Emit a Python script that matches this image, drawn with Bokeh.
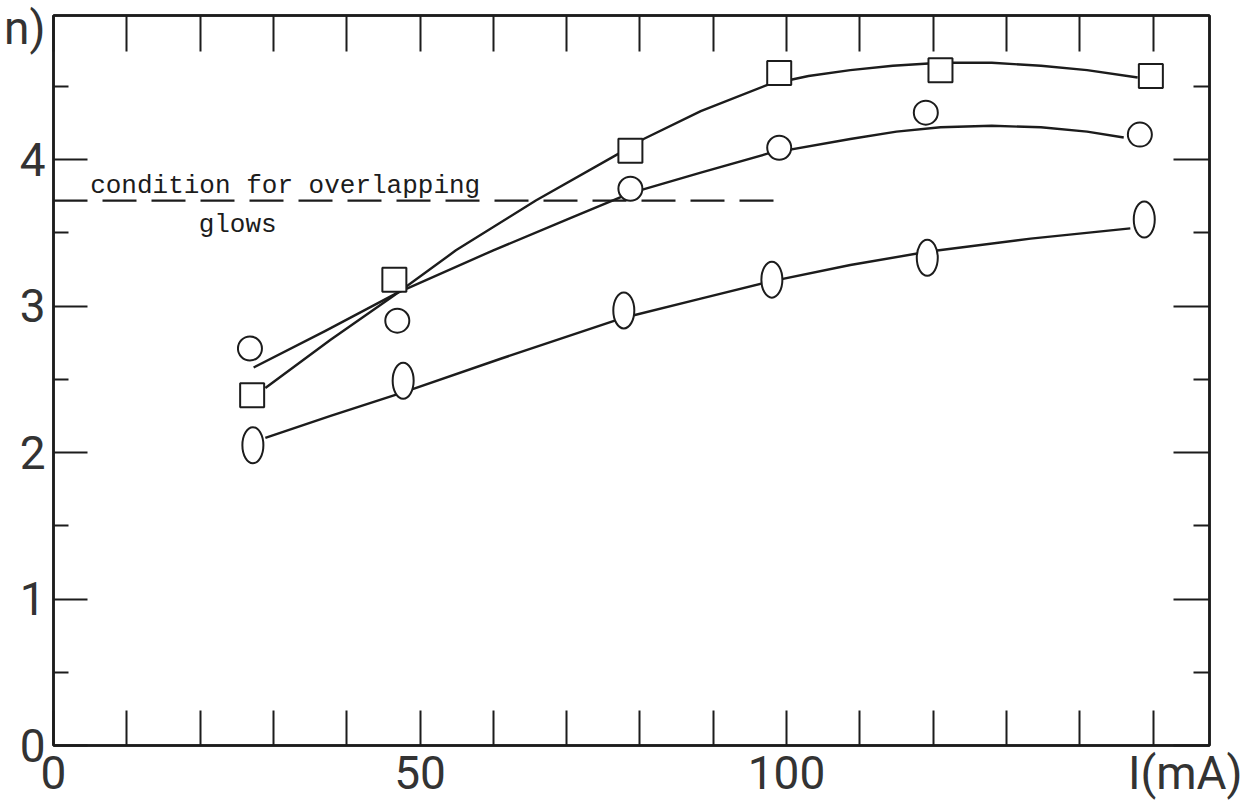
from bokeh.plotting import figure
from bokeh.models import Range1d, LinearAxis, FixedTicker, Label
from bokeh.embed import file_html
from bokeh.resources import INLINE

# ---- data (x: I in mA, y: value on the left scale) ----
sq_x = [27.1, 46.5, 78.7, 99.0, 121.0, 149.7]
sq_y = [2.39, 3.18, 4.06, 4.59, 4.61, 4.57]

ci_x = [26.8, 46.9, 78.7, 99.0, 119.0, 148.2]
ci_y = [2.71, 2.90, 3.80, 4.08, 4.32, 4.17]

ov_x = [27.2, 47.7, 77.8, 98.0, 119.2, 148.8]
ov_y = [2.05, 2.49, 2.97, 3.18, 3.33, 3.59]

# hand-drawn smooth curves
sq_curve_x = [28.9, 37.8, 46.4, 54.9, 65.8, 77.1, 80.5, 88.3, 97.4, 103.0, 108.7, 114.5, 121.0, 128.0, 134.7, 141.0, 147.9]
sq_curve_y = [2.44, 2.77, 3.07, 3.38, 3.72, 4.04, 4.14, 4.33, 4.51, 4.57, 4.61, 4.64, 4.66, 4.66, 4.64, 4.61, 4.56]

ci_curve_x = [27.3, 37.1, 46.9, 60.0, 70.5, 78.7, 88.3, 97.4, 108.7, 115.0, 121.0, 128.0, 134.7, 141.0, 146.0]
ci_curve_y = [2.58, 2.83, 3.09, 3.38, 3.60, 3.77, 3.91, 4.04, 4.14, 4.19, 4.22, 4.23, 4.22, 4.19, 4.15]

ov_curve_x = [28.9, 37.8, 47.7, 61.0, 77.8, 88.3, 98.0, 108.7, 119.2, 133.3, 146.9]
ov_curve_y = [2.10, 2.25, 2.41, 2.64, 2.92, 3.05, 3.17, 3.28, 3.37, 3.46, 3.53]

# condition for overlapping glows (dashed level)
dash_x = [0.0, 99.7]
dash_y = [3.72, 3.72]

x_ticks = [0, 10, 20, 30, 40, 50, 60, 70, 80, 90, 100, 110, 120, 130, 140, 150]
x_label_ticks = [0, 50, 100, 154.4]
x_label_text = ["0", "50", "100", "I(mA)"]

y_ticks = [0, 1, 2, 3, 4]
y_minor = [0.5, 1.5, 2.5, 3.5, 4.5]
y_label_ticks = [0, 1, 2, 3, 4, 4.935]
y_label_text = ["0", "1", "2", "3", "4", "n)"]

INK = "#1c1c1c"
LBL = "#333333"

X0, X1 = 0.0, 157.7
Y0, Y1 = 0.0, 4.983

p = figure(width=1244, height=804,
           x_range=Range1d(X0, X1), y_range=Range1d(Y0, Y1),
           x_axis_type=None, y_axis_type=None,
           output_backend="svg", toolbar_location=None,
           min_border_left=53, min_border_right=35,
           min_border_top=15, min_border_bottom=59,
           background_fill_color="white", border_fill_color="white")
p.outline_line_color = INK
p.outline_line_width = 2.5


def tick_axis(ticks, minor, tick_in, minor_in):
    ax = LinearAxis(ticker=FixedTicker(ticks=ticks, minor_ticks=minor))
    ax.axis_line_color = INK
    ax.axis_line_width = 2.5
    ax.major_tick_in = tick_in
    ax.major_tick_out = 0
    ax.minor_tick_in = minor_in
    ax.minor_tick_out = 0
    ax.major_tick_line_color = INK
    ax.major_tick_line_width = 2
    ax.minor_tick_line_color = INK
    ax.minor_tick_line_width = 2
    ax.major_label_overrides = {t: "" for t in ticks}
    ax.major_label_text_font_size = "1px"
    ax.major_label_standoff = 0
    return ax


def label_axis(ticks, texts, standoff):
    ax = LinearAxis(ticker=FixedTicker(ticks=ticks))
    ax.axis_line_color = None
    ax.major_tick_line_color = None
    ax.minor_tick_line_color = None
    ax.major_tick_in = 0
    ax.major_tick_out = 0
    ax.minor_tick_in = 0
    ax.minor_tick_out = 0
    ax.major_label_overrides = dict(zip(ticks, texts))
    ax.major_label_text_font = "Roboto"
    ax.major_label_text_font_size = "46px"
    ax.major_label_text_color = LBL
    ax.major_label_standoff = standoff
    return ax


# tick marks (all four sides, pointing inwards)
p.add_layout(tick_axis(x_ticks, [], 35, 0), "below")
p.add_layout(tick_axis(x_ticks, [], 36, 0), "above")
p.add_layout(tick_axis(y_ticks, y_minor, 34, 15), "left")
p.add_layout(tick_axis(y_ticks, y_minor, 36, 16), "right")

# tick labels (and the partly visible axis titles) on their own rows
p.add_layout(label_axis(x_label_ticks, x_label_text, 0), "below")
p.add_layout(label_axis(y_label_ticks, y_label_text, 8), "left")

# dashed level line
p.line(dash_x, dash_y, line_color=INK, line_width=2.2, line_dash="34 15")

# fitted curves
for cx, cy in ((sq_curve_x, sq_curve_y), (ci_curve_x, ci_curve_y), (ov_curve_x, ov_curve_y)):
    p.line(cx, cy, line_color=INK, line_width=2.4, line_join="round")

# markers
p.scatter(sq_x, sq_y, marker="square", size=24, fill_color="white",
          line_color=INK, line_width=2)
p.scatter(ci_x, ci_y, marker="circle", size=24, fill_color="white",
          line_color=INK, line_width=2)
p.ellipse(ov_x, ov_y, width=21, height=36, width_units="screen", height_units="screen",
          fill_color="white", line_color=INK, line_width=2)

# annotation text
p.add_layout(Label(x=5.0, y=3.82, text="condition for overlapping",
                   text_font="Liberation Mono", text_font_size="26px",
                   text_color=INK, text_baseline="alphabetic", text_align="left"))
p.add_layout(Label(x=19.8, y=3.55, text="glows",
                   text_font="Liberation Mono", text_font_size="26px",
                   text_color=INK, text_baseline="alphabetic", text_align="left"))

open("out.html", "w").write(file_html(p, INLINE))
